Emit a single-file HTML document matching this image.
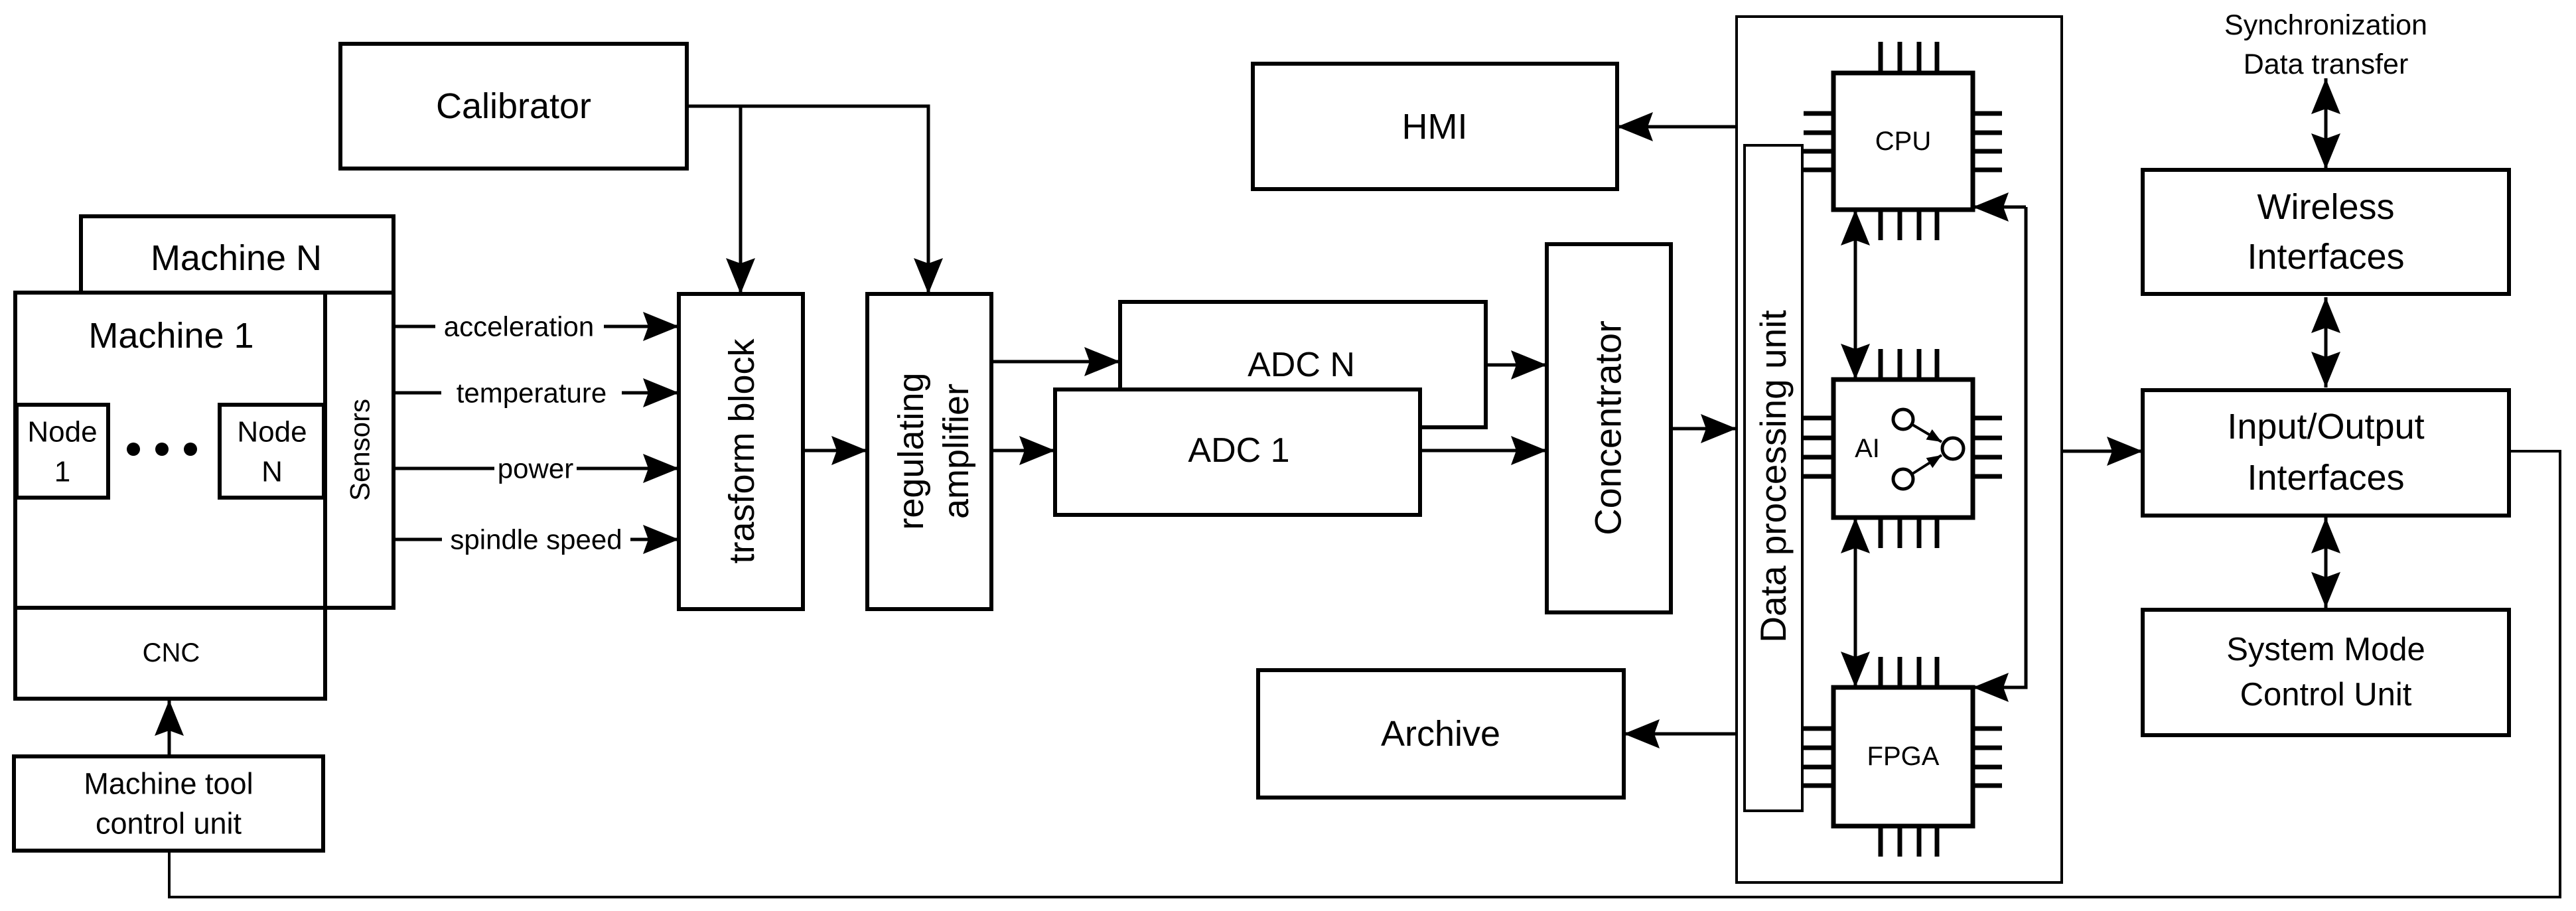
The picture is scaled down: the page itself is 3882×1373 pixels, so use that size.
<!DOCTYPE html>
<html><head><meta charset="utf-8"><style>
html,body{margin:0;padding:0;background:#fff}
svg{display:block}
text{font-family:"Liberation Sans",sans-serif;fill:#000}
</style></head><body>
<svg width="3882" height="1373" viewBox="0 0 3882 1373" xmlns="http://www.w3.org/2000/svg">
<defs>
<marker id="a" markerUnits="userSpaceOnUse" markerWidth="54" markerHeight="44" refX="54" refY="22" orient="auto-start-reverse">
<path d="M0,0 L54,22 L0,44 L8,22 z" fill="#000"/>
</marker>
<marker id="s" markerUnits="userSpaceOnUse" markerWidth="22" markerHeight="18" refX="22" refY="9" orient="auto">
<path d="M0,0 L22,9 L0,18 z" fill="#000"/>
</marker>
</defs>
<g fill="none" stroke="#000" stroke-width="6">
<rect x="122" y="326" width="471" height="115"/>
<rect x="23" y="441" width="467" height="475"/>
<rect x="490" y="441" width="103" height="475"/>
<rect x="23" y="916" width="467" height="137"/>
<rect x="25" y="610" width="138" height="140"/>
<rect x="331" y="610" width="157" height="140"/>
<rect x="21" y="1140" width="466" height="142"/>
<rect x="513" y="66" width="522" height="188"/>
<rect x="1023" y="443" width="187" height="475"/>
<rect x="1307" y="443" width="187" height="475"/>
<polyline points="1688,587 1688,455 2239,455 2239,644 2140,644"/>
<rect x="1590" y="587" width="550" height="189"/>
<rect x="2331" y="368" width="187" height="555"/>
<rect x="1888" y="96" width="549" height="189"/>
<rect x="1896" y="1010" width="551" height="192"/>
<rect x="3229" y="256" width="552" height="187"/>
<rect x="3229" y="588" width="552" height="189"/>
<rect x="3229" y="919" width="552" height="189"/>
</g>
<g fill="none" stroke="#000" stroke-width="4">
<rect x="2617" y="25" width="490" height="1305"/>
<rect x="2629" y="219" width="87" height="1003"/>
</g>
<g fill="none" stroke="#000" stroke-width="7">
<rect x="2763" y="110" width="210" height="206"/>
<rect x="2763" y="572" width="210" height="208"/>
<rect x="2763" y="1036" width="210" height="209"/>
<path d="M2834,63V110M2863,63V110M2892,63V110M2919,63V110 M2834,316V362M2863,316V362M2892,316V362M2919,316V362 M2718,171H2763M2718,200H2763M2718,228H2763M2718,256H2763 M2973,171H3017M2973,200H3017M2973,228H3017M2973,256H3017"/>
<path d="M2834,526V572M2863,526V572M2892,526V572M2919,526V572 M2834,780V826M2863,780V826M2892,780V826M2919,780V826 M2718,630H2763M2718,660H2763M2718,689H2763M2718,718H2763 M2973,630H3017M2973,660H3017M2973,689H3017M2973,718H3017"/>
<path d="M2834,990V1036M2863,990V1036M2892,990V1036M2919,990V1036 M2834,1245V1291M2863,1245V1291M2892,1245V1291M2919,1245V1291 M2718,1098H2763M2718,1127H2763M2718,1156H2763M2718,1184H2763 M2973,1098H3017M2973,1127H3017M2973,1156H3017M2973,1184H3017"/>
</g>
<g fill="#fff" stroke="#000" stroke-width="5">
<circle cx="2868" cy="632" r="15"/>
<circle cx="2943" cy="676" r="16"/>
<circle cx="2868" cy="722" r="15"/>
</g>
<g stroke="#000" stroke-width="4" fill="none">
<line x1="2882" y1="640" x2="2926" y2="666" marker-end="url(#s)"/>
<line x1="2882" y1="714" x2="2926" y2="686" marker-end="url(#s)"/>
</g>
<g fill="#000"><circle cx="201" cy="677" r="10"/><circle cx="244" cy="677" r="10"/><circle cx="287" cy="677" r="10"/></g>
<g fill="none" stroke="#000" stroke-width="5">
<polyline points="1035,160 1399,160 1399,443" marker-end="url(#a)"/>
<line x1="1116" y1="160" x2="1116" y2="443" marker-end="url(#a)"/>
<line x1="594" y1="492" x2="1023" y2="492" marker-end="url(#a)"/>
<line x1="594" y1="592" x2="1023" y2="592" marker-end="url(#a)"/>
<line x1="594" y1="706" x2="1023" y2="706" marker-end="url(#a)"/>
<line x1="594" y1="813" x2="1023" y2="813" marker-end="url(#a)"/>
<line x1="1210" y1="679" x2="1307" y2="679" marker-end="url(#a)"/>
<line x1="1494" y1="545" x2="1688" y2="545" marker-end="url(#a)"/>
<line x1="1494" y1="679" x2="1590" y2="679" marker-end="url(#a)"/>
<line x1="2239" y1="550" x2="2331" y2="550" marker-end="url(#a)"/>
<line x1="2140" y1="679" x2="2331" y2="679" marker-end="url(#a)"/>
<line x1="2518" y1="646" x2="2617" y2="646" marker-end="url(#a)"/>
<line x1="2617" y1="191" x2="2437" y2="191" marker-end="url(#a)"/>
<line x1="2617" y1="1106" x2="2447" y2="1106" marker-end="url(#a)"/>
<line x1="2796" y1="316" x2="2796" y2="572" marker-start="url(#a)" marker-end="url(#a)"/>
<line x1="2796" y1="780" x2="2796" y2="1036" marker-start="url(#a)" marker-end="url(#a)"/>
<polyline points="3053,312 3053,1036 2973,1036" marker-end="url(#a)"/>
<line x1="3053" y1="312" x2="2973" y2="312" marker-end="url(#a)"/>
<line x1="3107" y1="680" x2="3229" y2="680" marker-end="url(#a)"/>
<line x1="3505" y1="118" x2="3505" y2="255" marker-start="url(#a)" marker-end="url(#a)"/>
<line x1="3505" y1="448" x2="3505" y2="584" marker-start="url(#a)" marker-end="url(#a)"/>
<line x1="3505" y1="780" x2="3505" y2="916" marker-start="url(#a)" marker-end="url(#a)"/>
<line x1="255" y1="1140" x2="255" y2="1055" marker-end="url(#a)"/>
</g>
<polyline points="3781,680 3858,680 3858,1352 255,1352 255,1283" fill="none" stroke="#000" stroke-width="4"/>
<g text-anchor="middle" dominant-baseline="central">
<text x="356" y="389" font-size="54">Machine N</text>
<text x="258" y="506" font-size="54">Machine 1</text>
<text x="94" y="651" font-size="44">Node</text>
<text x="94" y="711" font-size="44">1</text>
<text x="410" y="651" font-size="44">Node</text>
<text x="410" y="711" font-size="44">N</text>
<text x="258" y="984" font-size="40">CNC</text>
<text x="254" y="1181" font-size="45">Machine tool</text>
<text x="254" y="1241" font-size="45">control unit</text>
<text x="542" y="678" font-size="42" transform="rotate(-90 542 678)">Sensors</text>
<g font-size="42">
<rect x="656" y="470" width="254" height="44" fill="#fff"/>
<text x="782" y="492">acceleration</text>
<rect x="665" y="570" width="272" height="44" fill="#fff"/>
<text x="801" y="592">temperature</text>
<rect x="745" y="684" width="124" height="44" fill="#fff"/>
<text x="807" y="706">power</text>
<rect x="666" y="791" width="284" height="44" fill="#fff"/>
<text x="808" y="813">spindle speed</text>
</g>
<text x="774" y="160" font-size="54">Calibrator</text>
<text x="1118" y="680" font-size="54" transform="rotate(-90 1118 680)">trasform block</text>
<text x="1373" y="680" font-size="54" transform="rotate(-90 1373 680)">regulating</text>
<text x="1441" y="680" font-size="54" transform="rotate(-90 1441 680)">amplifier</text>
<text x="1961" y="550" font-size="52">ADC N</text>
<text x="1867" y="679" font-size="52">ADC 1</text>
<text x="2423" y="645" font-size="56" transform="rotate(-90 2423 645)">Concentrator</text>
<text x="2162" y="191" font-size="54">HMI</text>
<text x="2171" y="1106" font-size="54">Archive</text>
<text x="2672" y="718" font-size="55" transform="rotate(-90 2672 718)">Data processing unit</text>
<text x="2868" y="213" font-size="40">CPU</text>
<text x="2814" y="676" font-size="40">AI</text>
<text x="2868" y="1140" font-size="40">FPGA</text>
<text x="3505" y="38" font-size="43">Synchronization</text>
<text x="3505" y="97" font-size="43">Data transfer</text>
<text x="3505" y="312" font-size="54">Wireless</text>
<text x="3505" y="387" font-size="54">Interfaces</text>
<text x="3505" y="643" font-size="54">Input/Output</text>
<text x="3505" y="720" font-size="54">Interfaces</text>
<text x="3505" y="979" font-size="49">System Mode</text>
<text x="3505" y="1047" font-size="49">Control Unit</text>
</g>
</svg>
</body></html>
